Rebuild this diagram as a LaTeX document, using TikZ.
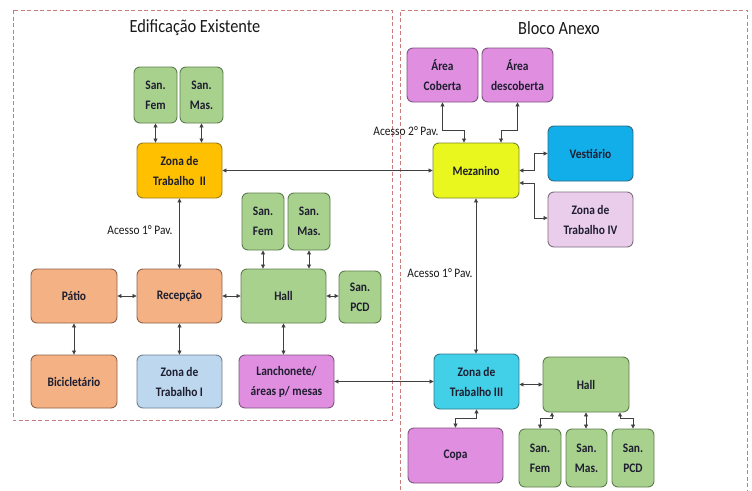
\documentclass[tikz,border=0pt]{standalone}
\usepackage{fontspec}
\setmainfont{Carlito}[FakeStretch=0.88]
\usetikzlibrary{arrows.meta,calc}
\definecolor{grn}{HTML}{A9D18E}
\definecolor{grnd}{HTML}{5E7D4C}
\definecolor{org}{HTML}{F4B183}
\definecolor{orgd}{HTML}{8E6248}
\definecolor{gold}{HTML}{FFC000}
\definecolor{goldd}{HTML}{9C7A18}
\definecolor{lblue}{HTML}{BDD7EE}
\definecolor{lblued}{HTML}{6F7F8F}
\definecolor{pnk}{HTML}{E08EE0}
\definecolor{pnkd}{HTML}{7E557E}
\definecolor{lpnk}{HTML}{EACDEA}
\definecolor{lpnkd}{HTML}{7E6F7E}
\definecolor{lime}{HTML}{E9F71E}
\definecolor{limed}{HTML}{7F8A2A}
\definecolor{sky}{HTML}{12AEEA}
\definecolor{skyd}{HTML}{2A6A86}
\definecolor{cyn}{HTML}{42D0E8}
\definecolor{cynd}{HTML}{2D7A88}
\definecolor{txt}{HTML}{1E1E30}
\definecolor{dash}{HTML}{C97C7C}
\tikzset{
  box/.style={rectangle, rounded corners=6pt, line width=0.9pt, text=txt,
    font=\bfseries\fontsize{13}{20}\selectfont, align=center, inner sep=1pt},
  gbox/.style={box, fill=grn, draw=grnd},
  obox/.style={box, fill=org, draw=orgd},
  pbox/.style={box, fill=pnk, draw=pnkd},
  arr/.style={draw=black!75, line width=0.8pt, {Triangle[length=4pt,width=4pt]}-{Triangle[length=4pt,width=4pt]}},
  lbl/.style={text=black!90, font=\fontsize{13}{15}\selectfont},
  ttl/.style={text=black!90, font=\fontsize{18.6}{22}\selectfont},
  area/.style={draw=dash, line width=0.8pt, dash pattern=on 4pt off 2.5pt}
}
\begin{document}
\begin{tikzpicture}[x=1pt,y=-1pt]
\useasboundingbox (0,0) rectangle (752,490);
\fill[white] (0,0) rectangle (752,490);
% areas
\draw[area] (13,10) rectangle (392,420);
\draw[area] (400,490) -- (400,10) -- (747,10) -- (747,490);
\node[ttl] (t1) at (195,28) {Edificação Existente};
\node[ttl] (t2) at (559,28) {Bloco Anexo};
% left block
\node[gbox, minimum width=43, minimum height=56] (sf1) at (155.5,95) {San.\\Fem};
\node[gbox, minimum width=43, minimum height=56] (sm1) at (201.5,95) {San.\\Mas.};
\node[box, fill=gold, draw=goldd, minimum width=85, minimum height=55] (zt2) at (179.5,170.5) {Zona de\\Trabalho\ \ II};
\node[gbox, minimum width=42, minimum height=57] (sf2) at (263,221.5) {San.\\Fem};
\node[gbox, minimum width=42, minimum height=57] (sm2) at (309,221.5) {San.\\Mas.};
\node[obox, minimum width=86, minimum height=54] (patio) at (74,296) {Pátio};
\node[obox, minimum width=85, minimum height=54] (recep) at (179.5,296) {Recepção};
\node[gbox, minimum width=85, minimum height=54] (hall1) at (283.5,296) {Hall};
\node[gbox, minimum width=42, minimum height=52] (pcd1) at (360,297) {San.\\PCD};
\node[obox, minimum width=86, minimum height=53] (bici) at (74,381.5) {Bicicletário};
\node[box, fill=lblue, draw=lblued, minimum width=85, minimum height=53] (zt1) at (179.5,381.5) {Zona de\\Trabalho\ I};
\node[pbox, minimum width=95, minimum height=53] (lanch) at (286.5,381.5) {Lanchonete/\\áreas p/ mesas};
% right block
\node[pbox, minimum width=71, minimum height=54] (acob) at (442.5,75) {Área\\Coberta};
\node[pbox, minimum width=71, minimum height=54] (adesc) at (517.5,75) {Área\\descoberta};
\node[box, fill=lime, draw=limed, minimum width=86, minimum height=55] (mez) at (476,170.5) {Mezanino};
\node[box, fill=sky, draw=skyd, minimum width=85, minimum height=55] (vest) at (590.5,153.5) {Vestiário};
\node[box, fill=lpnk, draw=lpnkd, minimum width=85, minimum height=55] (zt4) at (590.5,219.5) {Zona de\\Trabalho\ IV};
\node[box, fill=cyn, draw=cynd, minimum width=85, minimum height=55] (zt3) at (476.5,381.5) {Zona de\\Trabalho\ III};
\node[gbox, minimum width=86, minimum height=55] (hall2) at (586,384.5) {Hall};
\node[pbox, minimum width=95, minimum height=55] (copa) at (455.5,455.5) {Copa};
\node[gbox, minimum width=42, minimum height=58] (sf3) at (540,458) {San.\\Fem};
\node[gbox, minimum width=41, minimum height=58] (sm3) at (586.5,458) {San.\\Mas.};
\node[gbox, minimum width=42, minimum height=58] (pcd3) at (633,458) {San.\\PCD};
% labels
\node[lbl] (l2) at (406,131) {Acesso 2° Pav.};
\node[lbl] (l1a) at (140,230) {Acesso 1° Pav.};
\node[lbl] (l1b) at (440,273) {Acesso 1° Pav.};
% connectors left
\draw[arr] (sf1.south) -- (sf1.south |- zt2.north);
\draw[arr] (sm1.south) -- (sm1.south |- zt2.north);
\draw[arr] (zt2.east) -- (zt2.east -| mez.west);
\draw[arr] (zt2.south) -- (recep.north);
\draw[arr] (sf2.south) -- (sf2.south |- hall1.north);
\draw[arr] (sm2.south) -- (sm2.south |- hall1.north);
\draw[arr] (patio.east) -- (recep.west);
\draw[arr] (recep.east) -- (hall1.west);
\draw[arr] (hall1.east) -- (hall1.east -| pcd1.west);
\draw[arr] (patio.south) -- (bici.north);
\draw[arr] (recep.south) -- (zt1.north);
\draw[arr] (hall1.south) -- (hall1.south |- lanch.north);
\draw[arr] (lanch.east) -- (zt3.west);
% connectors right
\draw[arr] (acob.south) -- ++(0,28) -| ([xshift=-12pt]mez.north);
\draw[arr] (adesc.south) -- ++(0,28) -| ([xshift=25pt]mez.north);
\draw[arr] (mez.east) -- ++(15,0) |- (vest.west);
\draw[arr] ([yshift=-12.5pt]mez.east) -- ++(15,0) |- ([yshift=1.5pt]zt4.west);
\draw[arr] (mez.south) -- (mez.south |- zt3.north);
\draw[arr] (hall2.west -| zt3.east) -- (hall2.west);
\draw[arr] (zt3.south) -- ++(0,9) -| (copa.north);
\draw[arr] ([xshift=-34pt]hall2.south) -- ++(0,6) -| (sf3.north);
\draw[arr] (hall2.south) -- (hall2.south |- sm3.north);
\draw[arr] ([xshift=34pt]hall2.south) -- ++(0,6) -| (pcd3.north);
\end{tikzpicture}
\end{document}
